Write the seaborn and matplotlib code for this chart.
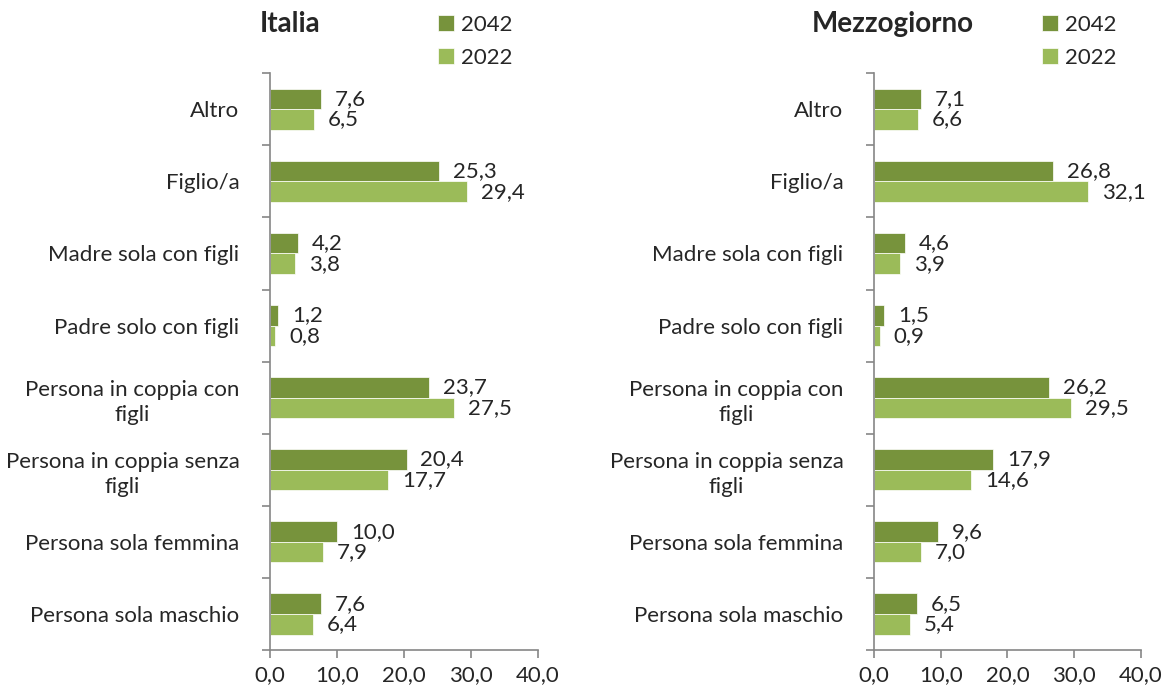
import numpy as np
import pandas as pd
import matplotlib
matplotlib.use("Agg")
import matplotlib.pyplot as plt
import seaborn as sns

categorie = ['Altro', 'Figlio/a', 'Madre sola con figli', 'Padre solo con figli',
             'Persona in coppia con\nfigli', 'Persona in coppia senza\nfigli',
             'Persona sola femmina', 'Persona sola maschio']
anni = ['2042', '2022']

italia_2042 = [7.6, 25.3, 4.2, 1.2, 23.7, 20.4, 10.0, 7.6]
italia_2022 = [6.5, 29.4, 3.8, 0.8, 27.5, 17.7, 7.9, 6.4]
mezz_2042 = [7.1, 26.8, 4.6, 1.5, 26.2, 17.9, 9.6, 6.5]
mezz_2022 = [6.6, 32.1, 3.9, 0.9, 29.5, 14.6, 7.0, 5.4]

x_ticks = [0, 10, 20, 30, 40]

sns.set_style("white")
plt.rcParams['font.family'] = ['Lato', 'DejaVu Sans']

colori = {'2042': '#77933C', '2022': '#9BBB59'}
grigio = '#868686'
fs = 16


def build_df(v42, v22):
    return pd.DataFrame({
        'Categoria': categorie * 2,
        'Anno': ['2042'] * len(categorie) + ['2022'] * len(categorie),
        'Valore': v42 + v22,
    })


fig = plt.figure(figsize=(11.69, 6.95), dpi=100)
ax1 = fig.add_axes([0.231, 0.0647, 0.229, 0.830])
ax2 = fig.add_axes([0.7476, 0.0647, 0.2284, 0.830])

panels = [(ax1, 'Italia', italia_2042, italia_2022, 0.248),
          (ax2, 'Mezzogiorno', mezz_2042, mezz_2022, 0.764)]

for ax, titolo, v42, v22, tx in panels:
    df = build_df(v42, v22)
    sns.barplot(data=df, y='Categoria', x='Valore', hue='Anno',
                hue_order=anni, palette=colori, orient='h',
                width=0.57, ax=ax, errorbar=None, saturation=1,
                edgecolor='white', linewidth=0.5)
    for cont, vals in zip(ax.containers, [v42, v22]):
        ax.bar_label(cont, labels=[f"{v:.1f}".replace('.', ',') for v in vals],
                     padding=10, fontsize=fs)

    ax.set_xlim(0, 40)
    ax.set_xticks(x_ticks)
    ax.set_xticklabels([f"{v:.1f}".replace('.', ',') for v in x_ticks], fontsize=fs)
    ax.set_ylim(7.5, -0.5)
    ax.set_yticks(range(len(categorie)))
    ax.set_yticklabels(categorie, fontsize=fs, multialignment='center',
                       linespacing=1.35)
    ax.set_yticks(np.arange(-0.5, len(categorie), 1), minor=True)
    ax.tick_params(axis='y', which='major', length=0, pad=22)
    ax.tick_params(axis='y', which='minor', length=6, color=grigio, width=1.2,
                   direction='out', left=True)
    ax.tick_params(axis='x', length=6, color=grigio, width=1.2, direction='out',
                   bottom=True, pad=5)
    ax.set_xlabel('')
    ax.set_ylabel('')
    for s in ['top', 'right']:
        ax.spines[s].set_visible(False)
    for s in ['left', 'bottom']:
        ax.spines[s].set_color(grigio)
        ax.spines[s].set_linewidth(1.2)

    fig.text(tx, 0.965, titolo, ha='center', va='center', fontsize=20,
             fontweight='bold')
    ax.legend(loc='upper left', bbox_to_anchor=(ax.get_position().x0 + 0.134, 0.995),
              bbox_transform=fig.transFigure, frameon=False, fontsize=fs,
              handlelength=0.75, handleheight=0.75, handletextpad=0.3,
              labelspacing=0.6, borderpad=0, title=None)

fig.savefig('out.png', dpi=100)
